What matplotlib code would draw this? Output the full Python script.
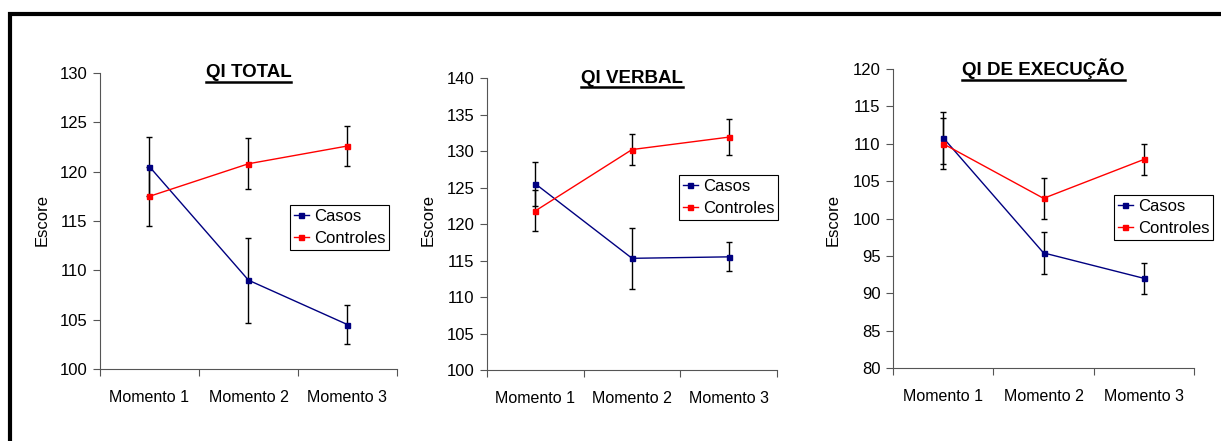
import numpy as np
import matplotlib
matplotlib.use("Agg")
import matplotlib.pyplot as plt
from matplotlib.lines import Line2D

plt.rcParams['font.family'] = ['Liberation Sans', 'DejaVu Sans']

momentos = ["Momento 1", "Momento 2", "Momento 3"]
titulos = ["QI TOTAL", "QI VERBAL", "QI DE EXECUÇÃO"]

# QI total
total_casos = [120.5, 109.0, 104.5]
total_casos_err = [3.0, 4.3, 2.0]
total_ctrl = [117.5, 120.8, 122.6]
total_ctrl_err = [3.0, 2.6, 2.0]

# QI verbal
verbal_casos = [125.5, 115.3, 115.5]
verbal_casos_err = [3.0, 4.2, 2.0]
verbal_ctrl = [121.8, 130.2, 131.9]
verbal_ctrl_err = [2.8, 2.1, 2.5]

# QI de execucao
exec_casos = [110.8, 95.4, 92.0]
exec_casos_err = [3.5, 2.8, 2.1]
exec_ctrl = [110.0, 102.7, 107.9]
exec_ctrl_err = [3.4, 2.7, 2.1]

ylims = [(100, 130), (100, 140), (80, 120)]
posicoes = [[0.0819, 0.1633, 0.2432, 0.6712],
            [0.3989, 0.1610, 0.2375, 0.6621],
            [0.7314, 0.1655, 0.2465, 0.6780]]
legend_px = [(290, 205), (679, 175), (1114, 195)]
ylabel_px = [50, 436, 841]

dados = [(total_casos, total_casos_err, total_ctrl, total_ctrl_err),
         (verbal_casos, verbal_casos_err, verbal_ctrl, verbal_ctrl_err),
         (exec_casos, exec_casos_err, exec_ctrl, exec_ctrl_err)]

W, H = 1221, 441
fig = plt.figure(figsize=(W / 100, H / 100), dpi=100)
x = np.arange(3) + 0.5
eixos = []
for i in range(3):
    ax = fig.add_axes(posicoes[i])
    casos, casos_err, ctrl, ctrl_err = dados[i]
    ax.errorbar(x, casos, yerr=casos_err, fmt='none', ecolor='black', elinewidth=1, capsize=2)
    ax.errorbar(x, ctrl, yerr=ctrl_err, fmt='none', ecolor='black', elinewidth=1, capsize=2)
    l1, = ax.plot(x, casos, color='#000080', marker='s', ms=3.6, lw=1, label='Casos')
    l2, = ax.plot(x, ctrl, color='#FF0000', marker='s', ms=3.6, lw=1, label='Controles')
    ax.set_xlim(0, 3)
    ax.set_ylim(*ylims[i])
    ax.set_yticks(np.arange(ylims[i][0], ylims[i][1] + 1, 5))
    ax.set_xticks([0, 1, 2, 3])
    ax.set_xticklabels([])
    ax.set_xticks(x, minor=True)
    ax.set_xticklabels(momentos, minor=True)
    ax.tick_params(axis='x', which='minor', length=0, pad=15, labelsize=11.5)
    ax.tick_params(axis='x', which='major', length=5, direction='out', color='#555555')
    ax.tick_params(axis='y', length=5, direction='out', labelsize=12, pad=4, color='#555555')
    for s in ['top', 'right']:
        ax.spines[s].set_visible(False)
    for s in ['left', 'bottom']:
        ax.spines[s].set_color('#555555')
    ax.set_ylabel('Escore', fontsize=12)
    ax.yaxis.set_label_coords(ylabel_px[i] / W, 0.5, transform=fig.transFigure)
    lx, ly = legend_px[i]
    leg = ax.legend([l1, l2], ['Casos', 'Controles'], loc='upper left',
                    bbox_to_anchor=(lx / W, 1 - ly / H), bbox_transform=fig.transFigure,
                    fontsize=12, frameon=True, fancybox=False, edgecolor='black', framealpha=1,
                    handlelength=0.9, handletextpad=0.3, borderpad=0.22,
                    labelspacing=0.45, borderaxespad=0)
    leg.get_frame().set_linewidth(0.8)
    t = ax.text(0.5, 1.0, titulos[i], transform=ax.transAxes, ha='center', va='center',
                fontsize=13.5, fontweight='bold')
    eixos.append((ax, t))

fig.canvas.draw()
r = fig.canvas.get_renderer()
for ax, t in eixos:
    bb = t.get_window_extent(r).transformed(fig.transFigure.inverted())
    fig.add_artist(Line2D([bb.x0, bb.x1], [bb.y0 - 0.001, bb.y0 - 0.001],
                          transform=fig.transFigure, color='black', lw=1.8))

# moldura preta
fig.add_artist(Line2D([9.5 / W, 9.5 / W, 1.0], [0.0, 1 - 13.5 / H, 1 - 13.5 / H],
                      transform=fig.transFigure, color='black', lw=3, solid_joinstyle='miter'))

fig.savefig('out.png', dpi=100)
